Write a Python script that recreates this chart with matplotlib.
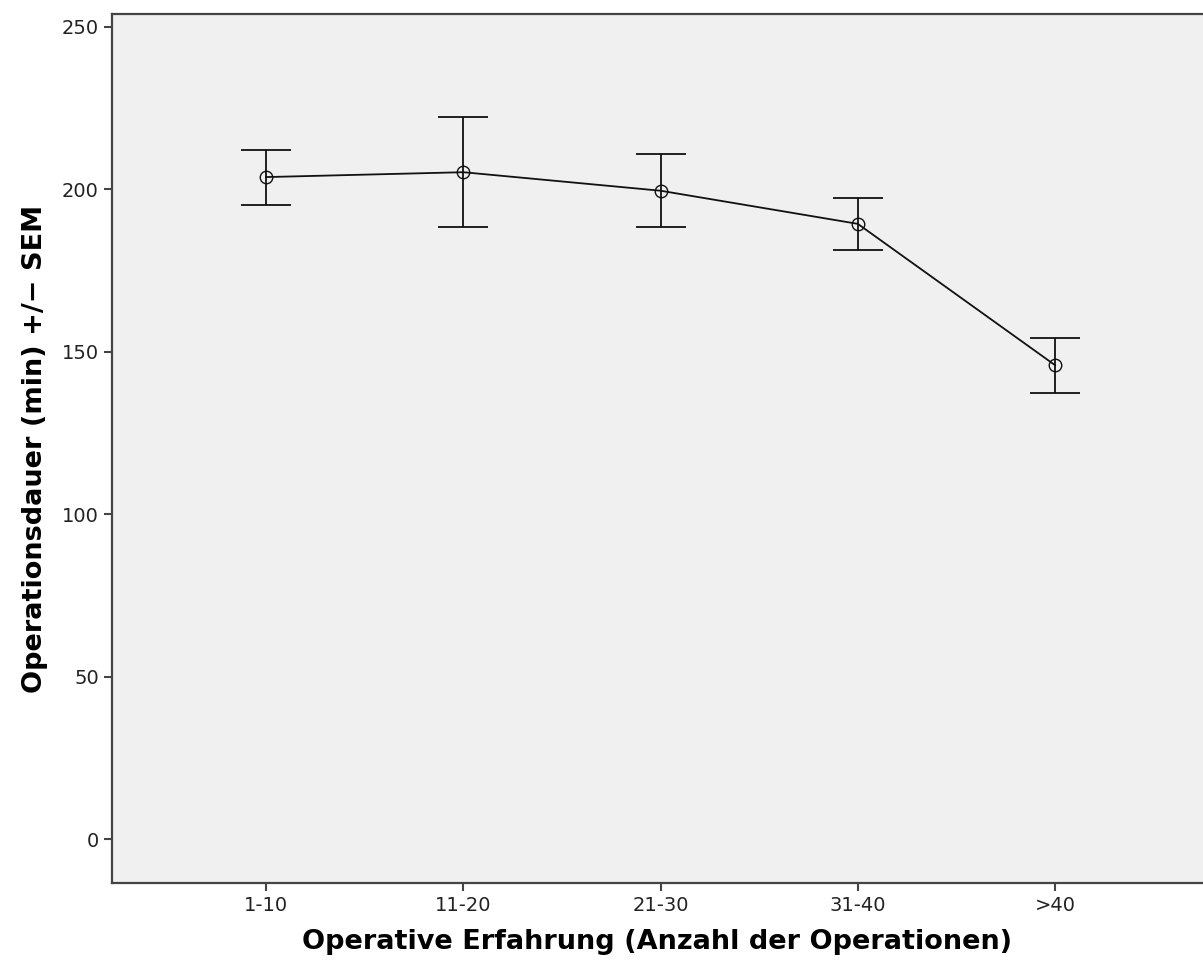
import numpy as np
import matplotlib
matplotlib.use("Agg")
from matplotlib import pyplot as plt

# Gruppen und Mittelwerte +/- SEM
categories = ["1-10", "11-20", "21-30", "31-40", ">40"]
means = [203.8, 205.3, 199.6, 189.4, 145.9]
upper = [212.2, 222.3, 210.8, 197.4, 154.4]
lower = [195.3, 188.5, 188.5, 181.2, 137.4]
yticks = [0, 50, 100, 150, 200, 250]


def main():
    x = np.arange(1, len(categories) + 1)
    m = np.array(means)
    err = [m - np.array(lower), np.array(upper) - m]

    fig = plt.figure(figsize=(12.03, 9.71), dpi=100)
    ax = fig.add_axes([112 / 1203, 1 - 883 / 971, 1 - 112 / 1203, (883 - 14) / 971])
    ax.set_facecolor("#f0f0f0")

    ax.errorbar(x, m, yerr=err, fmt="none", ecolor="#111111",
                elinewidth=1.3, capsize=18, capthick=1.3, zorder=2)
    ax.plot(x, m, color="#111111", lw=1.3, zorder=3)
    ax.plot(x, m, "o", mfc="none", mec="#111111", ms=9, mew=1.0, zorder=4)

    ax.set_xlim(0.219, 5.75)
    ax.set_ylim(-13.5, 254)
    ax.set_xticks(x)
    ax.set_xticklabels(categories)
    ax.set_yticks(yticks)

    for s in ["left", "bottom", "top"]:
        ax.spines[s].set_color("#444444")
        ax.spines[s].set_linewidth(1.6)
    ax.spines["right"].set_visible(False)
    ax.tick_params(direction="out", length=6, width=1.5, color="#444444",
                   labelsize=14, labelcolor="#222222")

    ax.set_xlabel("Operative Erfahrung (Anzahl der Operationen)",
                  fontsize=19.5, fontweight="bold", labelpad=10)
    ax.set_ylabel("Operationsdauer (min) +/\u2212 SEM",
                  fontsize=19.5, fontweight="bold", labelpad=10)

    fig.savefig("out.png", dpi=100, facecolor="white")


if __name__ == '__main__':
    main()
